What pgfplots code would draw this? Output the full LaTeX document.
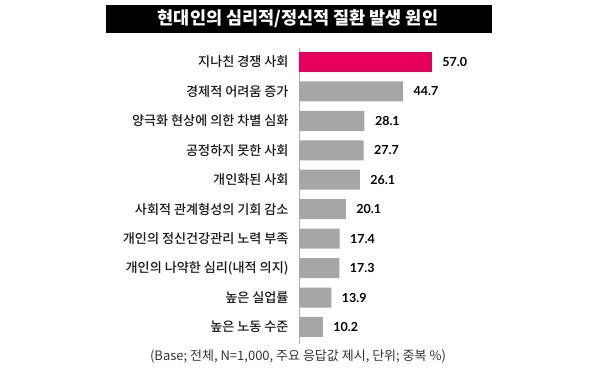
\documentclass[border=0pt]{standalone}
\usepackage{fontspec}
\setmainfont{Noto Sans CJK KR}
\newfontfamily\medfont{Noto Sans CJK KR Medium}
\newfontfamily\numfont{Lato}
\usepackage{pgfplots}
\pgfplotsset{compat=1.18}
\definecolor{pinkbar}{RGB}{230,0,92}
\definecolor{graybar}{RGB}{166,166,166}
\begin{document}
\begin{tikzpicture}
\useasboundingbox (0pt,0pt) rectangle (600pt,378pt);
\fill[black] (106pt,345pt) rectangle (492pt,373pt);
\node[text=white, font=\bfseries\fontsize{17.5}{19}\selectfont] at (298pt,359.5pt) {현대인의 심리적/정신적 질환 발생 원인};
\begin{axis}[
 at={(299pt,330pt)}, anchor=north west,
 x=2.33pt, y=29.44pt, y dir=reverse,
 xmin=0, xmax=70, ymin=-0.475, ymax=9.58,
 xbar, bar width=20pt, bar shift=0pt,
 hide x axis,
 axis y line*=left,
 y axis line style={draw=black!30, line width=0.8pt},
 ytick={0,...,9},
 yticklabels={지나친 경쟁 사회, 경제적 어려움 증가, 양극화 현상에 의한 차별 심화, 공정하지 못한 사회, 개인화된 사회, 사회적 관계형성의 기회 감소, 개인의 정신건강관리 노력 부족, 개인의 나약한 심리(내적 의지), 높은 실업률, 높은 노동 수준},
 major tick length=0pt,
 yticklabel style={font=\medfont\fontsize{13.1}{15}\selectfont, text=black!90, xshift=-7pt},
 point meta=x,
 nodes near coords={\pgfmathprintnumber[fixed,fixed zerofill,precision=1,assume math mode=true]{\pgfplotspointmeta}},
 every node near coord/.append style={font=\numfont\bfseries\fontsize{12.5}{14}\selectfont, text=black, anchor=west, xshift=7pt},
 clip=false,
]
\addplot[fill=pinkbar, draw=none] coordinates {(57.0,0)};
\addplot[fill=graybar, draw=none] coordinates {(44.7,1) (28.1,2) (27.7,3) (26.1,4) (20.1,5) (17.4,6) (17.3,7) (13.9,8) (10.2,9)};
\end{axis}
\node[font=\fontsize{13}{15}\selectfont, text=black!80] at (298pt,22pt) {(Base; 전체, N=1,000, 주요 응답값 제시, 단위; 중복 \%)};
\end{tikzpicture}
\end{document}
